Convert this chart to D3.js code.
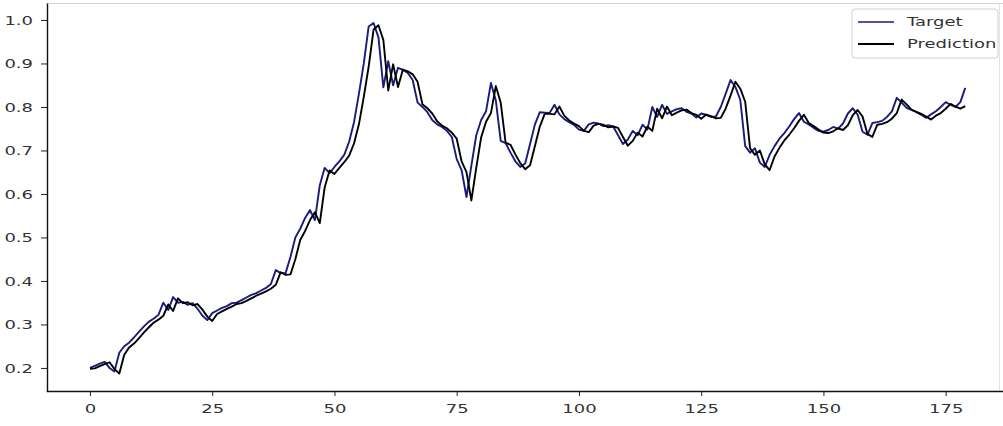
<!DOCTYPE html>
<html>
<head>
<meta charset="utf-8">
<script src="https://cdn.jsdelivr.net/npm/d3@7/dist/d3.min.js"></script>
<style>
    html, body { margin: 0; padding: 0; background: #fff; }
    svg { display: block; }
    text { font-family: "DejaVu Sans", sans-serif; fill: #333; }
</style>
</head>
<body>
<div id="chart"></div>
<script>
// Target vs Prediction, 180 steps
var steps = d3.range(180);

var target = [
    0.200, 0.205, 0.210, 0.214, 0.200, 0.192, 0.235, 0.250, 0.258, 0.270,
    0.283, 0.295, 0.306, 0.313, 0.322, 0.350, 0.333, 0.363, 0.350, 0.352,
    0.345, 0.349, 0.336, 0.320, 0.310, 0.326, 0.332, 0.338, 0.342, 0.349,
    0.350, 0.356, 0.362, 0.368, 0.372, 0.378, 0.384, 0.393, 0.425, 0.418,
    0.418, 0.455, 0.500, 0.520, 0.545, 0.563, 0.540, 0.620, 0.660, 0.648,
    0.662, 0.675, 0.690, 0.720, 0.765, 0.830, 0.900, 0.985, 0.993, 0.960,
    0.845, 0.905, 0.850, 0.890, 0.885, 0.878, 0.862, 0.810, 0.800, 0.788,
    0.770, 0.760, 0.754, 0.745, 0.731, 0.680, 0.655, 0.593, 0.665, 0.735,
    0.770, 0.790, 0.855, 0.815, 0.722, 0.717, 0.695, 0.675, 0.662, 0.670,
    0.715, 0.760, 0.788, 0.787, 0.786, 0.805, 0.783, 0.772, 0.765, 0.759,
    0.748, 0.745, 0.760, 0.764, 0.762, 0.756, 0.758, 0.755, 0.735, 0.715,
    0.725, 0.745, 0.735, 0.759, 0.748, 0.800, 0.777, 0.805, 0.784, 0.790,
    0.795, 0.797, 0.789, 0.785, 0.776, 0.785, 0.782, 0.777, 0.778, 0.800,
    0.830, 0.862, 0.846, 0.816, 0.710, 0.695, 0.705, 0.672, 0.662, 0.690,
    0.710, 0.727, 0.740, 0.755, 0.772, 0.786, 0.766, 0.760, 0.752, 0.745,
    0.743, 0.747, 0.754, 0.750, 0.762, 0.785, 0.797, 0.782, 0.743, 0.736,
    0.763, 0.765, 0.768, 0.777, 0.790, 0.821, 0.810, 0.798, 0.793, 0.788,
    0.782, 0.775, 0.783, 0.790, 0.800, 0.811, 0.805, 0.800, 0.811, 0.844
];

var prediction = [
    0.198, 0.199, 0.204, 0.209, 0.213, 0.198, 0.187, 0.230, 0.247, 0.256,
    0.268, 0.281, 0.293, 0.304, 0.311, 0.320, 0.346, 0.331, 0.360, 0.349,
    0.351, 0.344, 0.347, 0.334, 0.318, 0.308, 0.324, 0.330, 0.336, 0.341,
    0.347, 0.349, 0.354, 0.360, 0.366, 0.371, 0.376, 0.382, 0.391, 0.420,
    0.414, 0.415, 0.450, 0.494, 0.515, 0.540, 0.558, 0.533, 0.615, 0.654,
    0.646, 0.660, 0.673, 0.688, 0.716, 0.760, 0.823, 0.893, 0.978, 0.988,
    0.954, 0.838, 0.898, 0.846, 0.886, 0.882, 0.875, 0.858, 0.806, 0.797,
    0.785, 0.767, 0.757, 0.751, 0.741, 0.727, 0.675, 0.650, 0.585, 0.660,
    0.730, 0.766, 0.786, 0.848, 0.810, 0.718, 0.713, 0.691, 0.671, 0.657,
    0.666, 0.710, 0.755, 0.784, 0.784, 0.783, 0.801, 0.780, 0.769, 0.762,
    0.756, 0.745, 0.742, 0.757, 0.761, 0.759, 0.753, 0.755, 0.752, 0.731,
    0.711, 0.722, 0.741, 0.732, 0.755, 0.745, 0.796, 0.774, 0.801, 0.781,
    0.787, 0.792, 0.794, 0.786, 0.782, 0.773, 0.782, 0.779, 0.774, 0.775,
    0.796, 0.826, 0.858, 0.842, 0.812, 0.705, 0.690, 0.700, 0.668, 0.655,
    0.686, 0.706, 0.723, 0.736, 0.751, 0.768, 0.782, 0.763, 0.756, 0.748,
    0.741, 0.740, 0.744, 0.751, 0.747, 0.758, 0.781, 0.793, 0.778, 0.738,
    0.731, 0.759, 0.761, 0.765, 0.773, 0.786, 0.817, 0.806, 0.794, 0.789,
    0.784, 0.778, 0.771, 0.780, 0.786, 0.796, 0.807, 0.801, 0.796, 0.802
];

var xTicks = [0, 25, 50, 75, 100, 125, 150, 175];
var yTicks = [0.2, 0.3, 0.4, 0.5, 0.6, 0.7, 0.8, 0.9, 1.0];

var seriesNames = ["Target", "Prediction"];
var seriesColors = ["#1a1a80", "#000000"];

(function () {
    "use strict";

    var W = 1003, H = 426;
    var stretchX = 1.5; // the reference glyphs are drawn wide

    var svg = d3.select("#chart").append("svg")
        .attr("width", W)
        .attr("height", H);

    var x = d3.scaleLinear().domain([-8.95, 187.95]).range([46.2, 1009]);
    var y = d3.scaleLinear().domain([0.147, 1.039]).range([391, 3]);

    // faint frame on top / right
    svg.append("line")
        .attr("x1", 46).attr("x2", W).attr("y1", 3.5).attr("y2", 3.5)
        .attr("stroke", "#d4d4d4").attr("stroke-width", 1);
    svg.append("line")
        .attr("x1", 999.5).attr("x2", 999.5).attr("y1", 3).attr("y2", 391)
        .attr("stroke", "#e4e4e4").attr("stroke-width", 1);

    // Lines
    var line = d3.line()
        .x(function (d, i) { return x(steps[i]); })
        .y(function (d) { return y(d); });

    [target, prediction].forEach(function (vals, k) {
        svg.append("path")
            .datum(vals)
            .attr("fill", "none")
            .attr("stroke", seriesColors[k])
            .attr("stroke-width", 1.9)
            .attr("stroke-linejoin", "round")
            .attr("d", line);
    });

    // X axis
    var xAxis = svg.append("g")
        .attr("transform", "translate(0,391)")
        .call(d3.axisBottom(x).tickValues(xTicks).tickSize(5).tickSizeOuter(0)
            .tickFormat(d3.format("d")));
    xAxis.select(".domain").attr("stroke", "#111").attr("stroke-width", 1.4);
    xAxis.selectAll(".tick line").attr("stroke", "#222");
    xAxis.selectAll(".tick text")
        .attr("y", 22).attr("dy", 0)
        .attr("font-size", "12px")
        .attr("transform", "scale(" + stretchX + ",1)");

    // Y axis
    var yAxis = svg.append("g")
        .attr("transform", "translate(47,0)")
        .call(d3.axisLeft(y).tickValues(yTicks).tickSize(6).tickSizeOuter(0)
            .tickFormat(d3.format(".1f")));
    yAxis.select(".domain").attr("stroke", "#111").attr("stroke-width", 1.4);
    yAxis.selectAll(".tick line").attr("stroke", "#222");
    yAxis.selectAll(".tick text")
        .attr("x", -14 / stretchX)
        .attr("dy", "0.35em")
        .attr("font-size", "12px")
        .attr("transform", "scale(" + stretchX + ",1)");
    svg.selectAll(".domain").attr("fill", "none");
    svg.selectAll(".tick text").style("fill", "#333").attr("font-family", "DejaVu Sans");

    // Legend
    var legend = svg.append("g").attr("transform", "translate(852,9)");
    legend.append("rect")
        .attr("width", 146).attr("height", 49)
        .attr("rx", 3)
        .attr("fill", "#fff").attr("fill-opacity", 0.85)
        .attr("stroke", "#d0d0d0");

    seriesNames.forEach(function (name, k) {
        var ly = 13 + k * 22;
        legend.append("line")
            .attr("x1", 6).attr("x2", 42)
            .attr("y1", ly).attr("y2", ly)
            .attr("stroke", seriesColors[k])
            .attr("stroke-width", k === 0 ? 1.3 : 2.2);
        legend.append("text")
            .attr("x", 55 / stretchX)
            .attr("y", ly)
            .attr("dy", "0.35em")
            .attr("font-size", "12px")
            .attr("transform", "scale(" + stretchX + ",1)")
            .text(name);
    });
})();
</script>
</body>
</html>
